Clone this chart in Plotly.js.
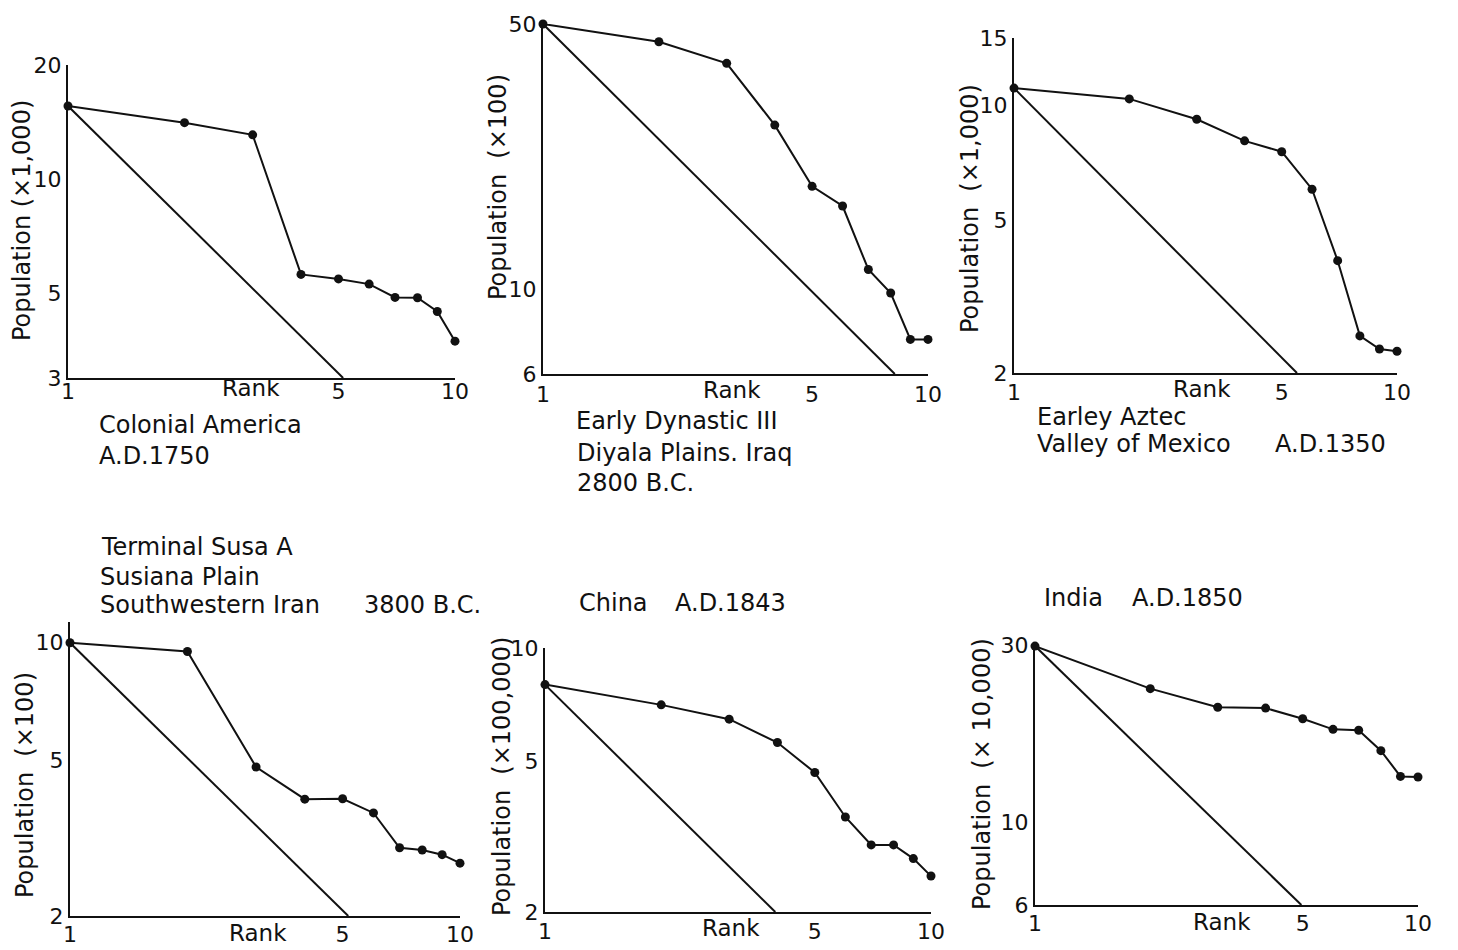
<!DOCTYPE html>
<html><head><meta charset="utf-8">
<script src="https://cdn.plot.ly/plotly-3.0.1.min.js"></script>
<style>html,body{margin:0;padding:0;background:#fff;} #chart{width:1458px;height:950px;}</style>
</head><body><div id="chart"></div>
<script>
// ---- data ----
const ranks = [1, 2, 3, 4, 5, 6, 7, 8, 9, 10];
const rankTicks = [1, 5, 10];

const colonialAmerica = [15.6, 14.1, 13.1, 5.62, 5.47, 5.3, 4.89, 4.88, 4.49, 3.75];
const earlyDynastic   = [50, 44.9, 39.4, 27.1, 18.7, 16.6, 11.3, 9.8, 7.4, 7.4];
const earleyAztec     = [11.1, 10.4, 9.2, 8.08, 7.57, 6.04, 3.93, 2.5, 2.31, 2.28];
const terminalSusa    = [10.0, 9.5, 4.81, 3.98, 3.99, 3.67, 2.99, 2.95, 2.87, 2.73];
const china1843       = [8.0, 7.07, 6.48, 5.62, 4.68, 3.57, 3.01, 3.01, 2.77, 2.49];
const india1850       = [29.8, 22.9, 20.4, 20.3, 19.0, 17.8, 17.7, 15.6, 13.3, 13.25];

// rank-size rule lines: start and end points
const colonialZipfRank = [1, 5.14], colonialZipfPop = [15.6, 3];
const dynasticZipfRank = [1, 8.2],  dynasticZipfPop = [50, 6];
const aztecZipfRank    = [1, 5.48], aztecZipfPop    = [11.1, 2];
const susaZipfRank     = [1, 5.17], susaZipfPop     = [10, 2];
const chinaZipfRank    = [1, 3.95], chinaZipfPop    = [8, 2];
const indiaZipfRank    = [1, 4.96], indiaZipfPop    = [29.8, 6];

const colonialTicks = [3, 5, 10, 20];
const dynasticTicks = [6, 10, 50];
const aztecTicks    = [2, 5, 10, 15];
const susaTicks     = [2, 5, 10];
const chinaTicks    = [2, 5, 10];
const indiaTicks    = [6, 10, 30];

const yTitles = ["Population (×1,000)", "Population\u00A0\u00A0(×100)", "Population\u00A0\u00A0(×1,000)",
                 "Population\u00A0\u00A0(×100)", "Population\u00A0\u00A0(×100,000)", "Population\u00A0\u00A0(×\u00A010,000)"];

// ---- layout geometry (pixels) ----
const W = 1458, H = 950;
const FONT = "DejaVu Sans";
const TICK_FS = 22, TEXT_FS = 24, RANK_FS = 23;
const INK = "#111";
const panels = [
  {vals: colonialAmerica, zr: colonialZipfRank, zp: colonialZipfPop, ticks: colonialTicks, yr: [3, 20],  l: 68,   r: 455,  t: 65,  b: 378, tx: 22,  ty: 221, so: -7},
  {vals: earlyDynastic,   zr: dynasticZipfRank, zp: dynasticZipfPop, ticks: dynasticTicks, yr: [6, 50],  l: 543,  r: 928,  t: 24,  b: 374, tx: 498, ty: 187, so: 0},
  {vals: earleyAztec,     zr: aztecZipfRank,    zp: aztecZipfPop,    ticks: aztecTicks,    yr: [2, 15],  l: 1014, r: 1397, t: 38,  b: 373, tx: 970, ty: 209, so: -1},
  {vals: terminalSusa,    zr: susaZipfRank,     zp: susaZipfPop,     ticks: susaTicks,     yr: [2, 11.3],l: 70,   r: 460,  t: 622, b: 916, tx: 25,  ty: 785, so: -2},
  {vals: china1843,       zr: chinaZipfRank,    zp: chinaZipfPop,    ticks: chinaTicks,    yr: [2, 10],  l: 545,  r: 931,  t: 648, b: 912, tx: 502, ty: 777, so: -1},
  {vals: india1850,       zr: indiaZipfRank,    zp: indiaZipfPop,    ticks: indiaTicks,    yr: [6, 30],  l: 1035, r: 1418, t: 645, b: 905, tx: 982, ty: 774, so: -2}
];
const rankLabelPos = [[251, 388], [732, 390], [1202, 389], [258, 933], [731, 928], [1222, 922]];

const px = x => x / W;
const py = y => 1 - y / H;

const traces = [];
const layout = {
  width: W, height: H, margin: {l: 0, r: 0, t: 0, b: 0},
  paper_bgcolor: "#fff", plot_bgcolor: "#fff", showlegend: false,
  font: {family: FONT, size: TEXT_FS, color: INK},
  annotations: []
};

panels.forEach((p, i) => {
  const n = i === 0 ? "" : String(i + 1);
  const xa = "x" + n, ya = "y" + n;
  traces.push({x: p.zr, y: p.zp, xaxis: xa, yaxis: ya, mode: "lines", type: "scatter",
               line: {color: INK, width: 2}, hoverinfo: "skip"});
  traces.push({x: ranks, y: p.vals, xaxis: xa, yaxis: ya, mode: "lines+markers", type: "scatter",
               line: {color: INK, width: 2}, marker: {color: INK, size: 9}, cliponaxis: false});
  layout["xaxis" + n] = {
    type: "log", range: [0, 1], domain: [px(p.l), px(p.r)], anchor: ya,
    showline: true, linecolor: INK, linewidth: 2, showgrid: false, zeroline: false,
    tickmode: "array", tickvals: rankTicks, ticktext: rankTicks.map(String),
    ticks: "", ticklabelstandoff: p.so,
    tickfont: {family: FONT, size: TICK_FS, color: INK}, fixedrange: true
  };
  layout["yaxis" + n] = {
    type: "log", range: [Math.log10(p.yr[0]), Math.log10(p.yr[1])], domain: [py(p.b), py(p.t)], anchor: xa,
    showline: true, linecolor: INK, linewidth: 2, showgrid: false, zeroline: false,
    tickmode: "array", tickvals: p.ticks, ticktext: p.ticks.map(String),
    ticks: "",
    tickfont: {family: FONT, size: TICK_FS, color: INK}, fixedrange: true
  };
  layout.annotations.push({text: yTitles[i], xref: "paper", yref: "paper", x: px(p.tx), y: py(p.ty),
    xanchor: "center", yanchor: "middle", textangle: -90, showarrow: false, font: {family: FONT, size: TEXT_FS, color: INK}});
  layout.annotations.push({text: "Rank", xref: "paper", yref: "paper", x: px(rankLabelPos[i][0]), y: py(rankLabelPos[i][1]),
    xanchor: "center", yanchor: "middle", showarrow: false, font: {family: FONT, size: RANK_FS, color: INK}});
});

// panel captions: [text, left px, center y px]
const captions = [
  ["Colonial America", 97, 425], ["A.D.1750", 97, 456],
  ["Early Dynastic III", 574, 421], ["Diyala Plains. Iraq", 575, 453], ["2800 B.C.", 575, 483],
  ["Earley Aztec", 1035, 417], ["Valley of Mexico", 1035, 444], ["A.D.1350", 1273, 444],
  ["Terminal Susa A", 99, 547], ["Susiana Plain", 98, 577], ["Southwestern Iran", 98, 605], ["3800 B.C.", 362, 605],
  ["China", 577, 603], ["A.D.1843", 673, 603],
  ["India", 1042, 598], ["A.D.1850", 1130, 598]
];
captions.forEach(c => layout.annotations.push({text: c[0], xref: "paper", yref: "paper", x: px(c[1]), y: py(c[2]),
  xanchor: "left", yanchor: "middle", showarrow: false, font: {family: FONT, size: TEXT_FS, color: INK}}));

Plotly.newPlot("chart", traces, layout, {staticPlot: true, displayModeBar: false});
</script></body></html>
